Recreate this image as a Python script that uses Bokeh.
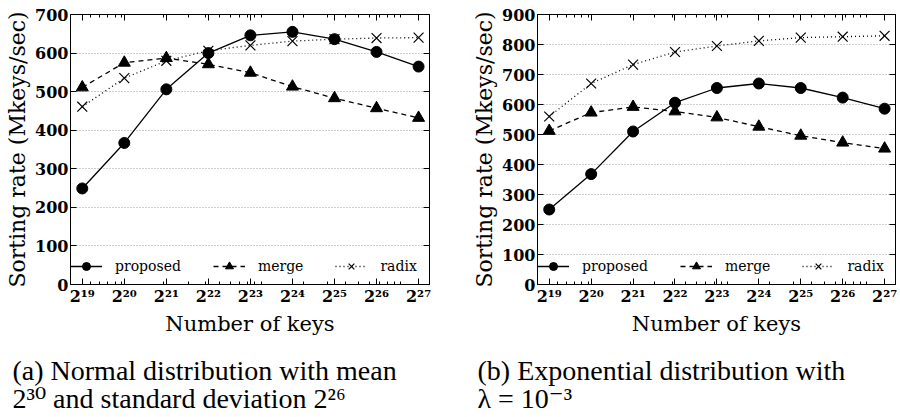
from bokeh.plotting import figure
from bokeh.models import (Range1d, FixedTicker, LinearAxis, LogAxis, Legend, LegendItem, Label)
from bokeh.layouts import row, column
from bokeh.embed import file_html
from bokeh.resources import INLINE

# ---- data ----
exponents = [19, 20, 21, 22, 23, 24, 25, 26, 27]
num_keys = [2 ** e for e in exponents]
x_tick_labels = ["2¹⁹", "2²⁰", "2²¹", "2²²", "2²³", "2²⁴", "2²⁵", "2²⁶", "2²⁷"]
x_minor_ticks = [6e5, 7e5, 8e5, 9e5,
                 1e6, 2e6, 3e6, 4e6, 5e6, 6e6, 7e6, 8e6, 9e6,
                 1e7, 2e7, 3e7, 4e7, 5e7, 6e7, 7e7, 8e7, 9e7, 1e8]

a_proposed = [249, 367, 506, 600, 646, 655, 636, 603, 565]
a_merge = [511, 575, 587, 571, 549, 513, 483, 457, 432]
a_radix = [461, 535, 580, 606, 620, 631, 636, 639, 640]
a_yticks = [0, 100, 200, 300, 400, 500, 600, 700]

b_proposed = [250, 368, 510, 606, 655, 670, 655, 623, 586]
b_merge = [512, 573, 592, 577, 557, 526, 496, 473, 453]
b_radix = [560, 670, 733, 775, 795, 812, 823, 826, 829]
b_yticks = [0, 100, 200, 300, 400, 500, 600, 700, 800, 900]

series_names = ["proposed", "merge", "radix"]
caption_a = ["(a) Normal distribution with mean", "2³⁰ and standard deviation 2²⁶"]
caption_b = ["(b) Exponential distribution with", "λ = 10⁻³"]

SERIF = "DejaVu Serif"
CAP_FONT = "Liberation Serif, DejaVu Serif"


def make_panel(proposed, merge, radix, yticks, border_left, border_right):
    p = figure(width=450, height=345, x_axis_type="log",
               x_range=Range1d(2 ** 18.72, 2 ** 27.26),
               y_range=Range1d(yticks[0], yticks[-1]),
               output_backend="svg", toolbar_location=None,
               min_border_left=border_left, min_border_right=border_right,
               min_border_top=14, min_border_bottom=61)
    p.outline_line_color = "black"
    p.outline_line_width = 1
    p.background_fill_color = "white"
    p.border_fill_color = "white"

    xt = FixedTicker(ticks=num_keys, minor_ticks=x_minor_ticks)
    yt = FixedTicker(ticks=yticks)

    xa = p.xaxis[0]
    xa.ticker = xt
    xa.major_label_overrides = {k: lab for k, lab in zip(num_keys, x_tick_labels)}
    xa.axis_label = "Number of keys"
    ya = p.yaxis[0]
    ya.ticker = yt
    ya.axis_label = "Sorting rate (Mkeys/sec)"

    for ax in (xa, ya):
        ax.major_label_text_font = SERIF
        ax.major_label_text_font_style = "bold"
        ax.major_label_text_font_size = "16px"
        ax.major_label_text_color = "black"
        ax.axis_label_text_font = SERIF
        ax.axis_label_text_font_style = "normal"
        ax.axis_label_text_color = "black"
        ax.axis_line_color = "black"
        ax.major_tick_line_color = "black"
        ax.minor_tick_line_color = "black"
        ax.major_tick_in = 6
        ax.major_tick_out = 0
        ax.minor_tick_in = 3
        ax.minor_tick_out = 0
        ax.major_label_standoff = 2
        ax.axis_label_standoff = 3
    xa.axis_label_text_font_size = "21px"
    ya.axis_label_text_font_size = "22px"
    ya.axis_label_standoff = 2
    ya.minor_tick_line_color = None

    top = LogAxis(ticker=xt, major_label_text_color=None, major_label_standoff=0,
                  major_label_overrides={k: "" for k in num_keys},
                  major_tick_in=6, major_tick_out=0, minor_tick_in=3, minor_tick_out=0,
                  axis_line_color="black")
    right = LinearAxis(ticker=yt, major_label_text_color=None, major_label_standoff=0,
                       major_label_overrides={k: "" for k in yticks},
                       major_tick_in=6, major_tick_out=0, minor_tick_line_color=None,
                       axis_line_color="black")
    p.add_layout(top, "above")
    p.add_layout(right, "right")

    p.xgrid.grid_line_color = None
    p.ygrid.ticker = yt
    p.ygrid.grid_line_color = "#9a9a9a"
    p.ygrid.grid_line_dash = "1 2"
    p.ygrid.grid_line_width = 1

    l1 = p.line(num_keys, proposed, line_color="black", line_width=1.3)
    s1 = p.scatter(num_keys, proposed, marker="circle", size=11, fill_color="black", line_color="black")
    l2 = p.line(num_keys, merge, line_color="black", line_width=1.3, line_dash="5 4")
    s2 = p.scatter(num_keys, merge, marker="triangle", size=12, fill_color="black", line_color="black")
    l3 = p.line(num_keys, radix, line_color="black", line_width=1.3, line_dash="1 3")
    s3 = p.scatter(num_keys, radix, marker="x", size=14, line_color="black", line_width=1.2)

    legend = Legend(items=[LegendItem(label=series_names[0], renderers=[l1, s1]),
                           LegendItem(label=series_names[1], renderers=[l2, s2]),
                           LegendItem(label=series_names[2], renderers=[l3, s3])],
                    orientation="horizontal", location=(0, 8), margin=0, padding=4,
                    glyph_width=32, glyph_height=20, label_height=20, label_standoff=13, spacing=32,
                    label_text_font=SERIF, label_text_font_size="14px", label_text_color="black",
                    border_line_color=None, background_fill_alpha=0)
    p.add_layout(legend)
    return p


def make_caption(lines, left):
    c = figure(width=450, height=72, x_range=Range1d(0, 1), y_range=Range1d(0, 1),
               x_axis_location=None, y_axis_location=None,
               output_backend="svg", toolbar_location=None, min_border=0)
    c.outline_line_color = None
    c.grid.visible = False
    for i, line in enumerate(lines):
        c.add_layout(Label(x=left, y=47 - 28 * i, x_units="screen", y_units="screen",
                           text=line, text_font=CAP_FONT, text_font_size="28px",
                           text_color="black", text_baseline="alphabetic"))
    return c


pa = make_panel(a_proposed, a_merge, a_radix, a_yticks, 70, 21)
pb = make_panel(b_proposed, b_merge, b_radix, b_yticks, 87, 5)
ca = make_caption(caption_a, 12)
cb = make_caption(caption_b, 27)

layout = column(row(pa, pb, spacing=0), row(ca, cb, spacing=0), spacing=0)
open("out.html", "w").write(file_html(layout, INLINE))
